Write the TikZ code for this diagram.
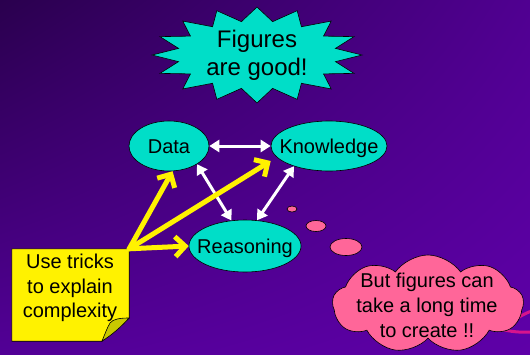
\documentclass[tikz,border=0pt]{standalone}
\usepackage{fontspec}
\setmainfont{Liberation Sans}
\usetikzlibrary{shapes.geometric,shapes.symbols,arrows.meta,shadings}
\definecolor{turq}{RGB}{0,222,200}
\definecolor{pinkc}{RGB}{255,102,153}
\definecolor{magc}{RGB}{215,20,140}
\definecolor{olivec}{RGB}{200,200,0}
\definecolor{bgA}{RGB}{42,0,78}
\definecolor{bgB}{RGB}{80,0,145}
\definecolor{bgC}{RGB}{82,0,150}
\definecolor{bgD}{RGB}{94,0,168}
\begin{document}
\begin{tikzpicture}[x=1pt,y=-1pt,
  concept/.style={ellipse,draw=black,fill=turq,inner sep=0pt,line width=0.6pt,
    font=\fontsize{20}{24}\selectfont,text height=14pt,text depth=0pt},
  txt/.style={align=center,font=\fontsize{20}{24.5}\selectfont,inner sep=0pt},
  warrow/.style={draw=white,line width=3pt,{Triangle[length=10pt,width=12pt]}-{Triangle[length=10pt,width=12pt]}},
  yarrow/.style={draw=yellow,line width=5pt,line cap=round,-{Straight Barb[length=10pt,width=20pt]}},
  bubble/.style={draw=black,fill=pinkc,line width=0.6pt}]
\shade[upper left=bgA,upper right=bgB,lower left=bgC,lower right=bgD] (0,0) rectangle (530,354);
\useasboundingbox (0,0) rectangle (530,354);

% starburst
\draw[fill=turq,line width=0.6pt] plot[samples=33,domain=0:32]
  ({257+(80+25*(1-mod(round(\x),2)))*cos(\x*11.25)},{55+(34+14*(1-mod(round(\x),2)))*sin(\x*11.25)}) -- cycle;
\node[txt,font=\fontsize{24}{28}\selectfont] (fig) at (257,55) {Figures\\are good!};

% concepts
\node[concept,minimum width=80pt,minimum height=50pt] (data) at (169,146) {\makebox[0pt]{Data}};
\node[concept,minimum width=116pt,minimum height=50pt] (know) at (329,146) {\makebox[0pt]{Knowledge}};
\node[concept,minimum width=112pt,minimum height=52pt] (reas) at (245,246) {\makebox[0pt]{Reasoning}};

\draw[warrow] (data) -- (know);
\draw[warrow] (data.-33) -- (reas.118);
\draw[warrow] (know.-150) -- (reas.65);

% note
\node[rectangle,inner sep=0pt,minimum width=117pt,minimum height=92pt] (note) at (70.5,295) {};
\draw[fill=yellow,line width=0.6pt] (note.north west) -- (note.north east) -- ([yshift=23pt]note.south east)
  -- ([xshift=-27pt]note.south east) -- (note.south west) -- cycle;
\draw[fill=olivec,line width=0.6pt] (129,318) .. controls (120,318) and (113,319) .. (110,323)
  .. controls (107,328) and (105,334) .. (102,341) .. controls (112,335) and (122,326) .. (129,318) -- cycle;
\node[txt] (notetext) at (70,288) {Use tricks\\to explain\\complexity};

\draw[yarrow] (note.north east) -- (data.-82);
\draw[yarrow] (note.north east) -- ([yshift=-15pt]know.west);
\draw[yarrow] (note.north east) -- (reas.west);

% thought bubbles
\draw[bubble] (292,209) ellipse [x radius=5, y radius=3];
\draw[bubble] (316,226) ellipse [x radius=10, y radius=5.5];
\draw[bubble] (346,247) ellipse [x radius=16, y radius=8.5];

\draw[magc,line width=3pt] (490,326) .. controls (505,331) and (518,333) .. (532,332);
\draw[magc,line width=3pt] (510,322) .. controls (518,318) and (525,313) .. (532,311);

\node[cloud,cloud puffs=9,cloud puff arc=110,aspect=2,draw=black,fill=pinkc,line width=0.6pt,
  minimum width=191pt,minimum height=98pt,inner sep=0pt] (cloud) at (428,304) {};
\node[txt,font=\fontsize{20}{25}\selectfont] (cloudtext) at (427,305) {But figures can\\take a long time\\to create !!};
\end{tikzpicture}
\end{document}
